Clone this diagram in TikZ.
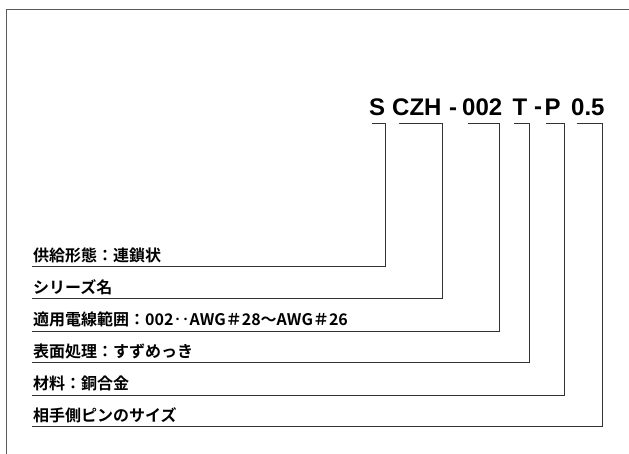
\documentclass[tikz,border=0pt]{standalone}
\usepackage{fontspec}
\setmainfont{Liberation Sans}
\newfontfamily\jp{Noto Sans CJK JP}[BoldFont={* Bold}]
\newfontfamily\ttl{Liberation Sans}
\begin{document}
\begin{tikzpicture}[x=1pt,y=-1pt,
  frameline/.style={draw=black!65, line width=1pt},
  bracket/.style={draw=black!80, line width=0.9pt},
  lbl/.style={anchor=base west, inner sep=0pt, font=\jp\bfseries\fontsize{16}{18}\selectfont},
  tt/.style={anchor=base west, inner sep=0pt, font=\ttl\bfseries\fontsize{24}{27}\selectfont}]
\useasboundingbox (0,0) rectangle (629,454);
\fill[white] (0,0) rectangle (629,454);
% frame
\coordinate (ftr) at (629,10);
\coordinate (ftl) at (6,10);
\coordinate (fbl) at (6,454);
\draw[frameline] (ftr) -- (ftl) -- (fbl);
% title pieces
\node[tt] (t1) at (369,115.7) {S};
\node[tt] (t2) at (392,115.7) {CZH};
\node[tt] (t3) at (449,115.7) {-};
\node[tt] (t4) at (462,115.7) {002};
\node[tt] (t5) at (512.5,115.7) {T};
\node[tt] (t6) at (534,114.5) {-};
\node[tt] (t7) at (544.5,115.7) {P};
\node[tt] (t8) at (571,115.7) {0.5};
% labels
\node[lbl] (l1) at (33,261.2) {供給形態：連鎖状};
\node[lbl] (l2) at (33,293.2) {シリーズ名};
\node[lbl] (l3) at (33,325.5) {適用電線範囲：002‥AWG＃28～AWG＃26};
\node[lbl] (l4) at (33,357.2) {表面処理：すずめっき};
\node[lbl] (l5) at (33,389.5) {材料：銅合金};
\node[lbl] (l6) at (33,421.2) {相手側ピンのサイズ};
% bracket coordinates
\coordinate (a1) at (371.7,123); \coordinate (k1) at (385.5,123); \coordinate (e1) at (32,266.7);
\coordinate (a2) at (399,123);   \coordinate (k2) at (442,123);   \coordinate (e2) at (32,298.7);
\coordinate (a3) at (468,123);   \coordinate (k3) at (499.7,123); \coordinate (e3) at (32,331);
\coordinate (a4) at (514,123);   \coordinate (k4) at (529,123);   \coordinate (e4) at (32,362.7);
\coordinate (a5) at (546,123);   \coordinate (k5) at (564,123);   \coordinate (e5) at (32,395);
\coordinate (a6) at (577,123);   \coordinate (k6) at (602,123);   \coordinate (e6) at (32,426.7);
\foreach \i in {1,...,6} {\draw[bracket] (a\i) -- (k\i) |- (e\i);}
\end{tikzpicture}
\end{document}
